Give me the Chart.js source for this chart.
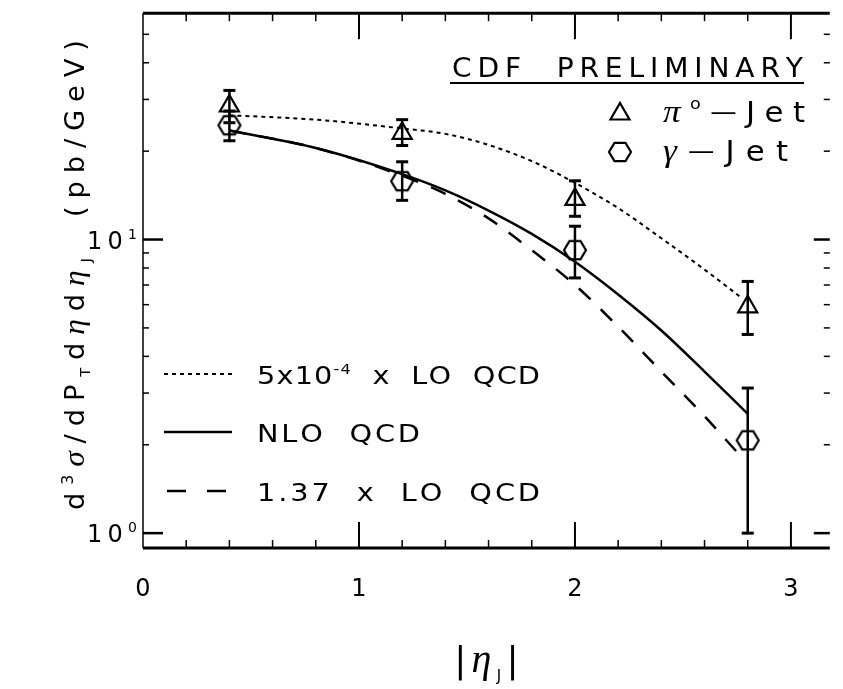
<!DOCTYPE html>
<html>
<head>
<meta charset="utf-8">
<script src="https://cdn.jsdelivr.net/npm/chart.js@4.4.0/dist/chart.umd.min.js"></script>
<style>
  html, body { margin: 0; padding: 0; background: #fff; }
  #wrap { width: 843px; height: 689px; }
</style>
</head>
<body>
<div id="wrap"><canvas id="myChart" width="843" height="689"></canvas></div>
<script>
// measured points, |eta_J| bins
var etaBins = [0.4, 1.2, 2.0, 2.8];
var pi0Jet = [28.5, 23.0, 13.7, 5.9];
var pi0JetLow = [25.0, 20.9, 12.0, 4.75];
var pi0JetHigh = [32.2, 25.6, 15.85, 7.2];
var gammaJet = [24.5, 15.8, 9.2, 2.07];
var gammaJetLow = [21.7, 13.6, 7.4, 1.0];
var gammaJetHigh = [27.4, 18.4, 11.1, 3.12];

// theory curves
var lo5Eta = [0.4, 0.8, 1.2, 1.4, 1.6, 1.8, 2.0, 2.2, 2.4, 2.6, 2.77];
var lo5Values = [26.5, 25.6, 23.9, 22.9, 21.0, 18.5, 15.6, 12.8, 10.1, 7.9, 6.34];
var nloEta = [0.4, 0.8, 1.2, 1.4, 1.6, 1.8, 2.0, 2.2, 2.4, 2.6, 2.8];
var nloValues = [23.5, 20.5, 16.7, 14.7, 12.55, 10.45, 8.4, 6.5, 4.9, 3.55, 2.55];
var lo137Eta = [0.4, 0.8, 1.2, 1.4, 1.6, 1.8, 2.0, 2.2, 2.4, 2.6, 2.75];
var lo137Values = [23.5, 20.5, 16.5, 14.3, 11.8, 9.2, 7.0, 5.05, 3.55, 2.5, 1.89];

// axes
var xTickValues = [0, 1, 2, 3];
var xTickLabels = ['0', '1', '2', '3'];
var yTickValues = [1, 10];
var yTickExponents = ['0', '1'];

var SANS = '"DejaVu Sans"';
var GREEK = '"Liberation Serif"';

function pairs(xs, ys) {
  return xs.map(function (x, i) { return { x: x, y: ys[i] }; });
}

function drawHex(g, x, y, r, lw) {
  g.beginPath();
  for (var k = 0; k < 6; k++) {
    var a = Math.PI / 3 * k;
    g.lineTo(x + r * Math.cos(a), y + r * Math.sin(a) * 0.95);
  }
  g.closePath();
  g.lineWidth = lw;
  g.strokeStyle = '#000';
  g.stroke();
}

function drawTri(g, x, y, r, lw) {
  g.beginPath();
  for (var k = 0; k < 3; k++) {
    var a = k * 2 * Math.PI / 3;
    g.lineTo(x + Math.sin(a) * r, y - Math.cos(a) * r);
  }
  g.closePath();
  g.lineWidth = lw;
  g.strokeStyle = '#000';
  g.stroke();
}

// hexagon marker as image
var hexImg = document.createElement('canvas');
hexImg.width = 28; hexImg.height = 28;
drawHex(hexImg.getContext('2d'), 14, 14, 11, 2.2);

function fontOf(c) {
  return c.g ? 'italic ' + c.size + 'px ' + GREEK : c.size + 'px ' + SANS;
}

function splitParts(g, parts, sx) {
  var chars = [];
  parts.forEach(function (p) {
    Array.from(p[0]).forEach(function (ch) {
      chars.push({ ch: ch, size: p[1], dy: p[2] || 0, g: !!p[3] });
    });
  });
  chars.forEach(function (c) {
    g.font = fontOf(c);
    c.w = g.measureText(c.ch).width * sx;
  });
  return chars;
}

function measureParts(g, parts, sx) {
  return splitParts(g, parts, sx || 1).reduce(function (s, c) { return s + c.w; }, 0);
}

// draw text made of parts [text, size, dy, greek], spread to width (if given)
function drawParts(g, parts, x, y, width, sx) {
  sx = sx || 1;
  var chars = splitParts(g, parts, sx);
  var natural = chars.reduce(function (s, c) { return s + c.w; }, 0);
  var track = width ? (width - natural) / (chars.length - 1) : 0;
  var cx = x;
  g.textAlign = 'left';
  g.textBaseline = 'alphabetic';
  chars.forEach(function (c) {
    g.font = fontOf(c);
    g.save();
    g.translate(cx, y + c.dy);
    g.scale(sx, 1);
    g.fillText(c.ch, 0, 0);
    g.restore();
    cx += c.w + track;
  });
}

var paperPlugin = {
  id: 'paper',
  beforeDatasetsDraw: function (chart) {
    var g = chart.ctx, a = chart.chartArea;
    var xs = chart.scales.x, ys = chart.scales.y;
    g.save();
    g.strokeStyle = '#000';
    g.lineCap = 'butt';
    // frame
    g.lineWidth = 1.5;
    g.beginPath(); g.moveTo(a.left, a.top); g.lineTo(a.left, a.bottom); g.stroke();
    g.lineWidth = 3;
    g.beginPath(); g.moveTo(a.left, a.top); g.lineTo(a.right, a.top); g.stroke();
    g.beginPath(); g.moveTo(a.left, a.bottom); g.lineTo(a.right, a.bottom); g.stroke();
    // x ticks, every 0.2
    for (var i = 1; i <= 15; i++) {
      var px = xs.getPixelForValue(i * 0.2);
      var major = i % 5 === 0;
      var len = major ? 26 : 8;
      g.lineWidth = major ? 2 : 1.5;
      g.beginPath(); g.moveTo(px, a.bottom); g.lineTo(px, a.bottom - len); g.stroke();
      g.beginPath(); g.moveTo(px, a.top); g.lineTo(px, a.top + len); g.stroke();
    }
    // y ticks, log decades
    [1, 10].forEach(function (dec) {
      for (var m = 1; m <= 9; m++) {
        var val = dec * m;
        if (val < ys.min || val > ys.max) continue;
        var py = ys.getPixelForValue(val);
        var isMajor = m === 1;
        g.lineWidth = isMajor ? 2.5 : 1.5;
        g.beginPath(); g.moveTo(a.left, py); g.lineTo(a.left + (isMajor ? 20 : 6), py); g.stroke();
        g.beginPath(); g.moveTo(a.right, py); g.lineTo(a.right - (isMajor ? 16 : 6), py); g.stroke();
      }
    });
    g.restore();
  },
  afterDatasetsDraw: function (chart) {
    var g = chart.ctx;
    var xs = chart.scales.x, ys = chart.scales.y;
    g.save();
    g.strokeStyle = '#000';
    function bars(lows, highs) {
      etaBins.forEach(function (x, i) {
        var px = xs.getPixelForValue(x);
        var y1 = ys.getPixelForValue(lows[i]);
        var y2 = ys.getPixelForValue(highs[i]);
        g.lineWidth = 2.5;
        g.beginPath(); g.moveTo(px, y1); g.lineTo(px, y2); g.stroke();
        g.lineWidth = 3;
        g.beginPath(); g.moveTo(px - 6, y1); g.lineTo(px + 6, y1); g.stroke();
        g.beginPath(); g.moveTo(px - 6, y2); g.lineTo(px + 6, y2); g.stroke();
      });
    }
    bars(pi0JetLow, pi0JetHigh);
    bars(gammaJetLow, gammaJetHigh);
    g.restore();
  },
  afterDraw: function (chart) {
    var g = chart.ctx, a = chart.chartArea;
    var xs = chart.scales.x, ys = chart.scales.y;
    g.save();
    g.fillStyle = '#000';
    g.strokeStyle = '#000';

    // x tick labels
    g.font = '24px ' + SANS;
    g.textAlign = 'center';
    g.textBaseline = 'middle';
    xTickValues.forEach(function (v, i) {
      g.fillText(xTickLabels[i], xs.getPixelForValue(v), 590);
    });
    // y tick labels
    yTickValues.forEach(function (v, i) {
      var py = ys.getPixelForValue(v);
      drawParts(g, [['10', 24, 0], [yTickExponents[i], 14, -10]], 87, py + 9, 50);
    });

    // x title |eta_J|
    var xt = [['|', 36, 0], ['η', 40, 0, true], ['J', 15, 9], ['|', 36, 0]];
    var w = measureParts(g, xt, 1) + 16;
    drawParts(g, xt, (a.left + a.right) / 2 - w / 2, 672, w, 1);

    // y title
    g.save();
    g.translate(84, 275);
    g.rotate(-Math.PI / 2);
    drawParts(g, [
      ['d', 26, 0], ['3', 15, -11], ['σ', 30, 0, true], ['/', 26, 0],
      ['dP', 26, 0], ['T', 14, 6], ['d', 26, 0], ['η', 30, 0, true],
      ['d', 26, 0], ['η', 30, 0, true], ['J', 14, 7], ['  (pb/GeV)', 26, 0]
    ], -235, 0, 470, 1.05);
    g.restore();

    // CDF label
    drawParts(g, [['CDF  PRELIMINARY', 26, 0]], 452, 77, 351, 1.08);
    g.lineWidth = 2;
    g.beginPath(); g.moveTo(450, 83); g.lineTo(804, 83); g.stroke();

    // marker legend
    drawTri(g, 620, 114, 11, 2.2);
    drawHex(g, 620, 152, 11, 2.2);
    drawParts(g, [['π', 32, 0, true], ['o', 16, -13], ['—', 24, -2], ['Jet', 28, 0]], 663, 122, 142, 1.1);
    drawParts(g, [['γ', 32, 0, true], ['—', 24, -2], ['Jet', 28, 0]], 663, 161, 125, 1.1);

    // curve legend
    g.lineWidth = 2;
    g.setLineDash([4, 4]);
    g.beginPath(); g.moveTo(164, 374); g.lineTo(232, 374); g.stroke();
    g.setLineDash([]);
    g.lineWidth = 2.5;
    g.beginPath(); g.moveTo(164, 432); g.lineTo(232, 432); g.stroke();
    g.setLineDash([19, 21]);
    g.beginPath(); g.moveTo(167, 491); g.lineTo(228, 491); g.stroke();
    g.setLineDash([]);
    drawParts(g, [['5x10', 25, 0], ['-4', 14, -10], ['  x  LO  QCD', 25, 0]], 257, 384, 283, 1.15);
    drawParts(g, [['NLO  QCD', 25, 0]], 257, 442, 163, 1.15);
    drawParts(g, [['1.37  x  LO  QCD', 25, 0]], 257, 501, 283, 1.15);
    g.restore();
  }
};

var chart = new Chart(document.getElementById('myChart'), {
  type: 'scatter',
  data: {
    datasets: [
      {
        label: '5x10^-4 x LO QCD',
        data: pairs(lo5Eta, lo5Values),
        showLine: true,
        borderColor: '#000',
        borderWidth: 2,
        borderDash: [4, 4],
        pointRadius: 0,
        cubicInterpolationMode: 'monotone'
      },
      {
        label: 'NLO QCD',
        data: pairs(nloEta, nloValues),
        showLine: true,
        borderColor: '#000',
        borderWidth: 2.5,
        pointRadius: 0,
        cubicInterpolationMode: 'monotone'
      },
      {
        label: '1.37 x LO QCD',
        data: pairs(lo137Eta, lo137Values),
        showLine: true,
        borderColor: '#000',
        borderWidth: 2.5,
        borderDash: [16, 14],
        pointRadius: 0,
        cubicInterpolationMode: 'monotone'
      },
      {
        label: 'π0-Jet',
        data: pairs(etaBins, pi0Jet),
        pointStyle: 'triangle',
        pointRadius: 11,
        borderWidth: 2.2,
        borderColor: '#000',
        backgroundColor: 'rgba(0,0,0,0)'
      },
      {
        label: 'γ-Jet',
        data: pairs(etaBins, gammaJet),
        pointStyle: hexImg,
        pointRadius: 11,
        borderColor: '#000',
        backgroundColor: 'rgba(0,0,0,0)'
      }
    ]
  },
  options: {
    responsive: false,
    animation: false,
    devicePixelRatio: 1,
    layout: { padding: { left: 143, right: 0, top: 10, bottom: 141 } },
    plugins: { legend: { display: false }, tooltip: { enabled: false } },
    scales: {
      x: { type: 'linear', min: 0, max: 3.18, display: false },
      y: { type: 'logarithmic', min: 0.89, max: 59, display: false }
    }
  },
  plugins: [paperPlugin]
});
</script>
</body>
</html>
